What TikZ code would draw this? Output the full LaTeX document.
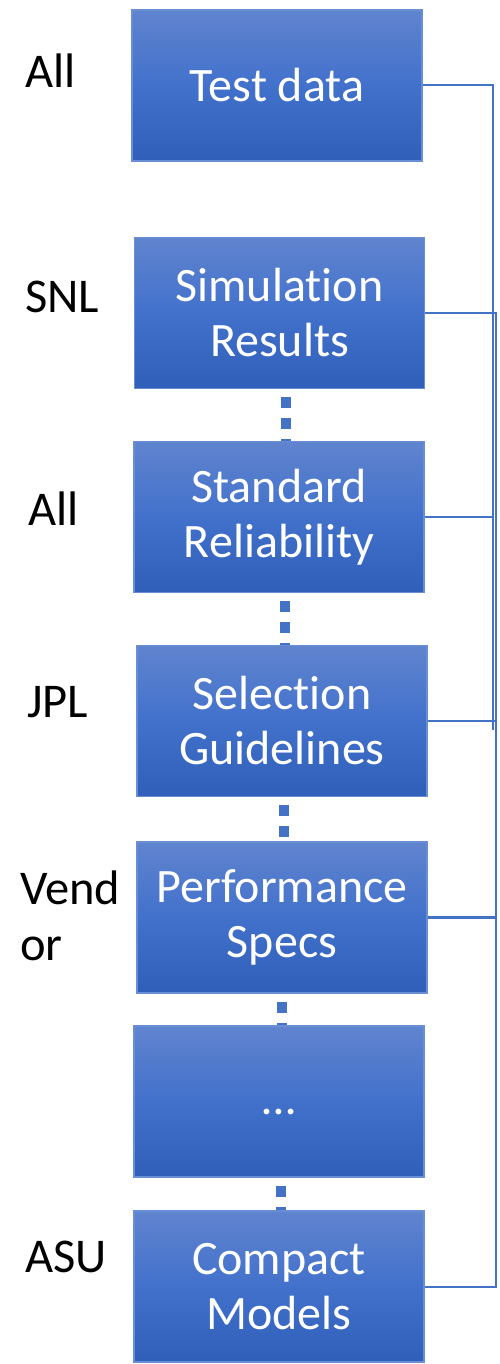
\documentclass[tikz,border=0pt]{standalone}
\usepackage{fontspec}
\setmainfont{Carlito}[Ligatures=NoCommon]
\usetikzlibrary{backgrounds}
\definecolor{linkblue}{RGB}{68,114,196}
\definecolor{boxtop}{RGB}{96,132,206}
\definecolor{boxmid}{RGB}{66,113,204}
\definecolor{boxbot}{RGB}{47,95,185}
\definecolor{boxedge}{RGB}{104,142,214}
\tikzset{
  stagebox/.style={rectangle, minimum width=290pt, minimum height=151pt,
    inner sep=0pt, draw=boxedge, line width=1.2pt,
    top color=boxtop, bottom color=boxbot, middle color=boxmid,
    text=white, align=center,
    font=\fontsize{48pt}{55pt}\selectfont},
  owner/.style={anchor=base west, inner sep=0pt, align=left,
    font=\fontsize{48.5pt}{56pt}\selectfont},
  chain/.style={draw=linkblue, line width=10pt, dash pattern=on 11pt off 10pt, dash phase=13pt},
  bus/.style={draw=linkblue, line width=2.8pt}
}
\begin{document}
\begin{tikzpicture}[x=1pt,y=-1pt]
\useasboundingbox (0,0) rectangle (499,1364);
% vertical chain of stages
\node[stagebox] (b1) at (277,85.5) {Test data};
\node[stagebox] (b2) at (279.5,313) {Simulation\\Results};
\node[stagebox] (b3) at (279,517) {Standard\\Reliability};
\node[stagebox] (b4) at (282,721) {Selection\\Guidelines};
\node[stagebox] (b5) at (282,917.5) {Performance\\Specs};
\node[stagebox] (b6) at (279,1101.5) {\vphantom{dg}\dots};
\node[stagebox] (b7) at (279,1286.5) {Compact\\Models};
% dotted links between stages, behind the boxes
\coordinate (endc) at (281,1380);
\begin{scope}[on background layer]
\draw[chain] ([xshift=6.5pt]b2.south) -- ([xshift=7pt]b3.north);
\draw[chain] ([xshift=6pt]b3.south) -- ([xshift=3pt]b4.north);
\draw[chain] ([xshift=2pt]b4.south) -- ([xshift=2pt]b5.north);
\draw[chain] ([xshift=0pt]b5.south) -- ([xshift=3pt]b6.north);
\draw[chain] ([xshift=2pt]b6.south) -- ([xshift=2pt]b7.north);
\draw[chain] ([xshift=2pt]b7.south) -- (endc);
\end{scope}
% owners
\node[owner] (o1) at (25,88) {All};
\node[owner] (o2) at (25,312) {SNL};
\node[owner] (o3) at (28,525) {All};
\node[owner] (o4) at (27,717) {JPL};
\node[owner] (o5) at (20,960) {Vend\\or};
\node[owner] (o7) at (25,1272) {ASU};
% right-hand bus
\coordinate (busa1) at (493,85);
\coordinate (busa2) at (493,730);
\coordinate (busb1) at (496,313);
\coordinate (busb2) at (496,1287);
\draw[bus] (b1.east |- busa1) -- (busa1) -- (busa2);
\draw[bus] (b2.east |- busb1) -- (busb1) -- (busb2) -- (b7.east |- busb2);
\draw[bus] (b3.east) -- (b3.east -| busa1);
\draw[bus] (b4.east) -- (b4.east -| busb1);
\draw[bus] (b5.east) -- (b5.east -| busb1);
\end{tikzpicture}
\end{document}
